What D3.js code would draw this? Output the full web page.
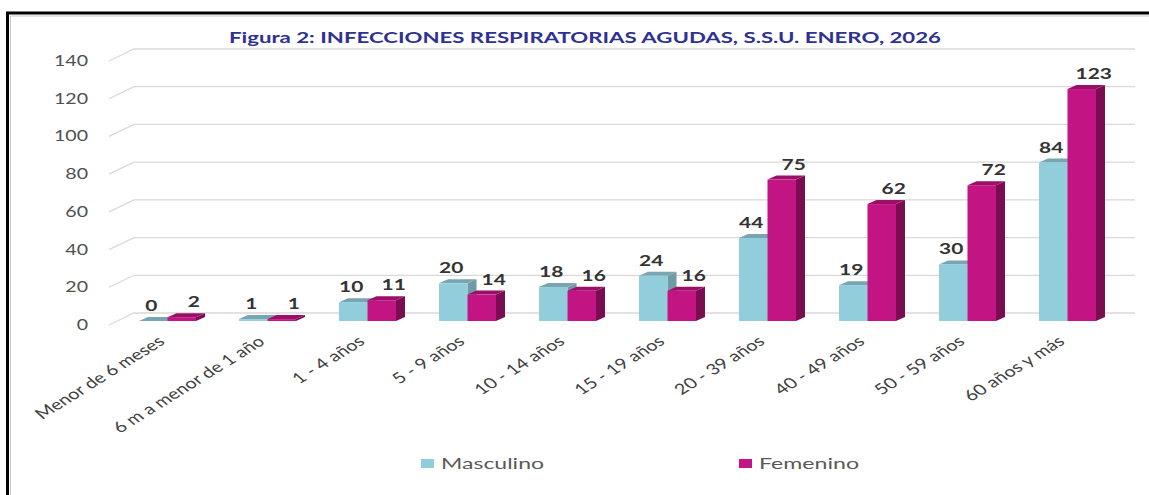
<!DOCTYPE html>
<html>
<head>
<meta charset="utf-8">
<script src="https://cdn.jsdelivr.net/npm/d3@7"></script>
<style>
  body { margin: 0; background: #fff; }
  svg { display: block; }
  text { font-family: Lato, "Open Sans", sans-serif; }
</style>
</head>
<body>
<div id="chart"></div>
<script>
// datos
const categories = [
  "Menor de 6 meses", "6 m a menor de 1 año", "1 - 4 años", "5 - 9 años",
  "10 - 14 años", "15 - 19 años", "20 - 39 años", "40 - 49 años",
  "50 - 59 años", "60 años y más"
];
const series = ["Masculino", "Femenino"];
const masculino = [0, 1, 10, 20, 18, 24, 44, 19, 30, 84];
const femenino = [2, 1, 11, 14, 16, 16, 75, 62, 72, 123];
const yTicks = [0, 20, 40, 60, 80, 100, 120, 140];
const title = "Figura 2: INFECCIONES RESPIRATORIAS AGUDAS, S.S.U. ENERO, 2026";

const W = 1149, H = 495;
const stretch = 1.35; // el texto del original está estirado a lo ancho

const colors = {
  Masculino: { front: "#92cddc", top: "#78a5b2", side: "#6f9aa6" },
  Femenino: { front: "#c21482", top: "#9c0f69", side: "#7a0c52" }
};

const svg = d3.select("#chart").append("svg")
  .attr("width", W).attr("height", H);

// marco
svg.append("path")
  .attr("d", `M7.5,${H} V13 H${W}`)
  .attr("fill", "none").attr("stroke", "#000").attr("stroke-width", 3);
svg.append("path")
  .attr("d", `M10.5,${H} V16 H${W}`)
  .attr("fill", "none").attr("stroke", "#c8c8c8").attr("stroke-width", 1);

// escalas
const y = d3.scaleLinear().domain([0, 140]).range([321, 57]);
const x = d3.scaleBand().domain(categories).range([109, 1109]);
const xs = d3.scaleBand().domain(series).range([30, 87]);

// profundidad 3D
const wall = { dx: 25, dy: -12 }; // del frente del piso a la pared
const depth = { dx: 9, dy: -4 };  // profundidad de cada barra

// cuadrícula
const grid = svg.append("g");
yTicks.forEach(t => {
  const yb = y(t) - 8;
  grid.append("path")
    .attr("d", `M109,${yb - wall.dy} L${109 + wall.dx},${yb} H1135`)
    .attr("fill", "none").attr("stroke", "#d9d9d9").attr("stroke-width", 1.3);
  svg.append("text")
    .attr("transform", `translate(88,${yb - wall.dy + 5}) scale(${stretch},1)`)
    .attr("text-anchor", "end")
    .attr("font-size", 14.5).attr("fill", "#505050")
    .text(t);
});

// barras
const rows = [];
categories.forEach((c, i) => {
  rows.push({ cat: c, s: "Masculino", v: masculino[i] });
  rows.push({ cat: c, s: "Femenino", v: femenino[i] });
});

const bars = svg.append("g").selectAll("g").data(rows).join("g");

bars.each(function (d) {
  const g = d3.select(this);
  const x0 = x(d.cat) + xs(d.s);
  const x1 = x0 + xs.bandwidth();
  const y0 = y(0), y1 = y(d.v);
  const c = colors[d.s];
  // cara lateral
  g.append("path")
    .attr("d", `M${x1},${y0} L${x1 + depth.dx},${y0 + depth.dy} L${x1 + depth.dx},${y1 + depth.dy} L${x1},${y1} Z`)
    .attr("fill", c.side);
  // cara superior
  g.append("path")
    .attr("d", `M${x0},${y1} L${x0 + depth.dx},${y1 + depth.dy} L${x1 + depth.dx},${y1 + depth.dy} L${x1},${y1} Z`)
    .attr("fill", c.top);
  // frente
  g.append("rect")
    .attr("x", x0).attr("y", y1)
    .attr("width", xs.bandwidth()).attr("height", y0 - y1)
    .attr("fill", c.front);
  // etiqueta
  const off = d.s === "Masculino" ? -2 : 12;
  g.append("text")
    .attr("transform", `translate(${(x0 + x1) / 2 + off},${y1 - 10}) scale(${stretch},1)`)
    .attr("text-anchor", "middle")
    .attr("font-size", 15.5).attr("font-weight", "bold").attr("fill", "#333")
    .text(d.v);
});

// etiquetas del eje x
categories.forEach(c => {
  svg.append("text")
    .attr("transform", `translate(${x(c) + 57},${343}) scale(${stretch},1) rotate(-40)`)
    .attr("text-anchor", "end")
    .attr("font-size", 14.8).attr("fill", "#404040")
    .text(c);
});

// título
svg.append("text")
  .attr("x", 229).attr("y", 43)
  .attr("textLength", 712).attr("lengthAdjust", "spacingAndGlyphs")
  .attr("font-size", 16).attr("font-weight", "bold").attr("fill", "#2e3192")
  .text(title);

// leyenda
const legend = [
  { s: "Masculino", x: 421, w: 103 },
  { s: "Femenino", x: 739, w: 100 }
];
legend.forEach(l => {
  svg.append("rect")
    .attr("x", l.x).attr("y", 459).attr("width", 13).attr("height", 9)
    .attr("fill", colors[l.s].front);
  svg.append("text")
    .attr("x", l.x + 20).attr("y", 469)
    .attr("textLength", l.w).attr("lengthAdjust", "spacingAndGlyphs")
    .attr("font-size", 15.5).attr("fill", "#595959")
    .text(l.s);
});
</script>
</body>
</html>
